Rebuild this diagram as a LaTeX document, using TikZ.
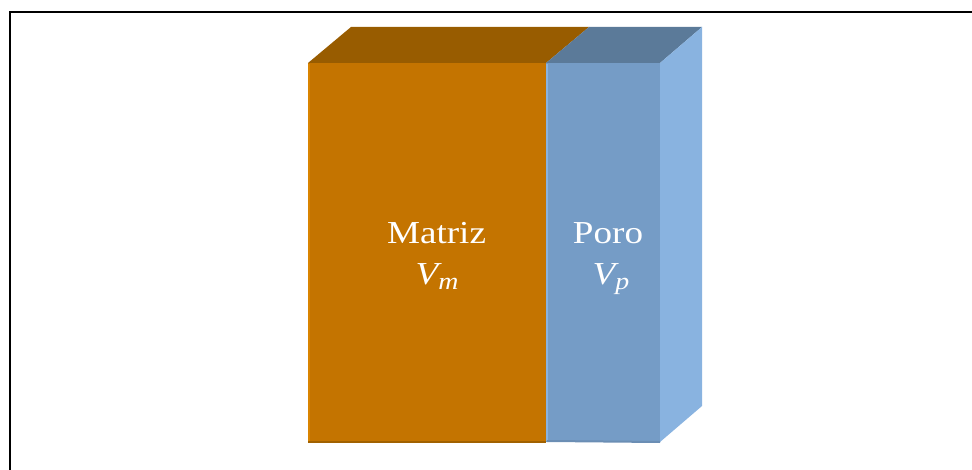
\documentclass[tikz,border=0pt]{standalone}
\usepackage{fontspec}
\setmainfont{Liberation Serif}
\usetikzlibrary{positioning}
\definecolor{matrizfront}{RGB}{196,116,0}
\definecolor{matriztop}{RGB}{152,92,0}
\definecolor{matrizedge}{RGB}{218,132,0}
\definecolor{porofront}{RGB}{117,156,198}
\definecolor{porotop}{RGB}{91,122,153}
\definecolor{poroside}{RGB}{137,179,224}

\newcommand{\widetext}[1]{\scalebox{1.16}[1]{#1}}
\newcommand{\volsub}[2]{\textit{#1}\kern-3pt\raisebox{-0.13em}{\textit{\fontsize{24}{26}\selectfont #2}}}

\tikzset{
  label/.style={text=white, anchor=base, inner sep=0pt, font=\fontsize{32}{36}\selectfont}
}

\begin{document}
\begin{tikzpicture}[x=1pt, y=-1pt]
        \useasboundingbox (0,0) rectangle (972,470);
        \path
        (308,63)  coordinate (mtl)
        (546,63)  coordinate (mtr)
        (546,442) coordinate (mbr)
        (308,442) coordinate (mbl)
        (351,27)  coordinate (mbk)
        (589,27)  coordinate (cbk)
        (660,63)  coordinate (ptr)
        (660,442) coordinate (pbr)
        (702,27)  coordinate (pbk)
        (702,406) coordinate (pbb)
        ;

        % frame
        \draw[line width=2.5pt] (10,470) -- (10,12) -- (972,12);

        % matriz block
        \fill[matriztop] (mtl) -- (mbk) -- (cbk) -- (mtr) -- cycle;
        \fill[matrizfront] (mtl) rectangle (mbr);
        \draw[matrizedge, line width=2pt] (309,64) -- (309,441);
        \draw[matriztop!80!matrizfront, line width=2pt] (mbl) -- (mbr);

        % poro block
        \fill[porotop] (mtr) -- (cbk) -- (pbk) -- (ptr) -- cycle;
        \fill[poroside] (ptr) -- (pbk) -- (pbb) -- (pbr) -- cycle;
        \fill[porofront] (mtr) rectangle (pbr);
        \draw[poroside, line width=2pt] (547,64) -- (547,441);
        \draw[porotop!40!porofront, line width=2pt] (547,441) -- (pbr);

        % labels
        \node[label] (matriz) at (436.5,244) {\widetext{Matriz}};
        \node[label] (vm) at (437,285) {\widetext{\volsub{V}{m}}};
        \node[label] (poro) at (608,244) {\widetext{Poro}};
        \node[label] (vp) at (611,285) {\widetext{\volsub{V}{p}}};
\end{tikzpicture}
\end{document}
